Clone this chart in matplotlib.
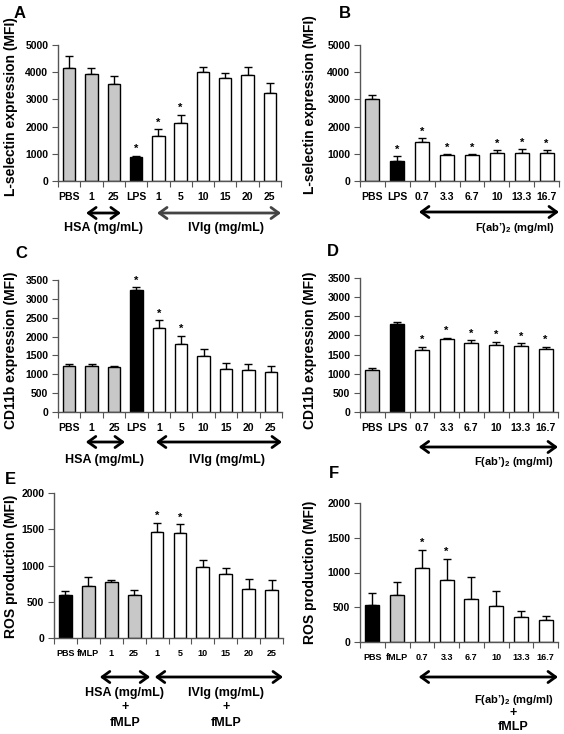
import numpy as np
import matplotlib
matplotlib.use("Agg")
import matplotlib.pyplot as plt
import matplotlib.transforms as mtransforms

plt.rcParams['font.family'] = ['Liberation Sans', 'DejaVu Sans']
plt.rcParams['font.weight'] = 'bold'
plt.rcParams['mathtext.fontset'] = 'custom'
plt.rcParams['mathtext.bf'] = 'Liberation Sans:bold'
plt.rcParams['mathtext.rm'] = 'Liberation Sans:bold'

# ---------------- data ----------------
cats_A = ["PBS", "1", "25", "LPS", "1", "5", "10", "15", "20", "25"]
vals_A = [4150, 3950, 3580, 880, 1650, 2150, 4000, 3780, 3900, 3250]
errs_A = [450, 200, 280, 50, 250, 280, 200, 200, 300, 350]
cols_A = ["g", "g", "g", "k", "w", "w", "w", "w", "w", "w"]
star_A = [0, 0, 0, 1, 1, 1, 0, 0, 0, 0]

cats_B = ["PBS", "LPS", "0.7", "3.3", "6.7", "10", "13.3", "16.7"]
vals_B = [3000, 720, 1420, 950, 950, 1030, 1030, 1030]
errs_B = [180, 200, 150, 30, 40, 100, 130, 100]
cols_B = ["g", "k", "w", "w", "w", "w", "w", "w"]
star_B = [0, 1, 1, 1, 1, 1, 1, 1]

cats_C = ["PBS", "1", "25", "LPS", "1", "5", "10", "15", "20", "25"]
vals_C = [1210, 1230, 1200, 3230, 2230, 1800, 1480, 1150, 1110, 1070]
errs_C = [50, 30, 30, 80, 200, 220, 200, 150, 160, 150]
cols_C = ["g", "g", "g", "k", "w", "w", "w", "w", "w", "w"]
star_C = [0, 0, 0, 1, 1, 1, 0, 0, 0, 0]

cats_D = ["PBS", "LPS", "0.7", "3.3", "6.7", "10", "13.3", "16.7"]
vals_D = [1090, 2300, 1630, 1900, 1800, 1740, 1720, 1650]
errs_D = [70, 50, 70, 40, 80, 100, 80, 50]
cols_D = ["g", "k", "w", "w", "w", "w", "w", "w"]
star_D = [0, 0, 1, 1, 1, 1, 1, 1]

cats_E = ["PBS", "fMLP", "1", "25", "1", "5", "10", "15", "20", "25"]
vals_E = [590, 720, 770, 600, 1460, 1450, 980, 880, 670, 660]
errs_E = [60, 120, 30, 60, 130, 120, 90, 90, 140, 140]
cols_E = ["k", "g", "g", "g", "w", "w", "w", "w", "w", "w"]
star_E = [0, 0, 0, 0, 1, 1, 0, 0, 0, 0]

cats_F = ["PBS", "fMLP", "0.7", "3.3", "6.7", "10", "13.3", "16.7"]
vals_F = [530, 670, 1060, 890, 620, 520, 360, 310]
errs_F = [180, 200, 270, 310, 310, 210, 80, 60]
cols_F = ["k", "g", "w", "w", "w", "w", "w", "w"]
star_F = [0, 0, 1, 1, 0, 0, 0, 0]

COLOR = {"g": "#c8c8c8", "k": "#000000", "w": "#ffffff"}
W, H = 564, 734
fig = plt.figure(figsize=(W / 100, H / 100), dpi=100)
FAB = "F(ab\u2019)$_{\\mathbf{2}}$ (mg/ml)"


def px_axes(x0, x1, ytop, ybot):
    return fig.add_axes([x0 / W, 1 - ybot / H, (x1 - x0) / W, (ybot - ytop) / H])


def draw(ax, cats, vals, errs, cols, stars, ymax, ystep, ylabel, ylab_ypx,
         ylab_off=41, catfs=7.5):
    n = len(cats)
    x = np.arange(n)
    ax.bar(x, vals, width=0.56, color=[COLOR[c] for c in cols],
           edgecolor="black", linewidth=1.0, zorder=2)
    ax.errorbar(x, vals, yerr=[np.zeros(n), errs], fmt="none", ecolor="black",
                elinewidth=1.0, capsize=3, capthick=1.0, zorder=1)
    for xi, v, e, s in zip(x, vals, errs, stars):
        if s:
            ax.text(xi, v + e + ymax * 0.012, "*", ha="center", va="bottom",
                    fontsize=8, fontweight="bold")
    ax.set_xlim(-0.5, n - 0.5)
    ax.set_ylim(0, ymax)
    ax.set_yticks(np.arange(0, ymax + 1, ystep))
    ax.set_xticks(np.arange(-0.5, n, 1))
    ax.set_xticklabels([])
    ax.set_xticks(x, minor=True)
    ax.set_xticklabels(cats, minor=True, fontsize=catfs, fontweight="bold")
    ax.tick_params(axis="x", which="minor", length=0, pad=8)
    ax.tick_params(axis="x", which="major", length=4, direction="out", color="#555555")
    ax.tick_params(axis="y", length=4, pad=3, direction="out", labelsize=7.5,
                   color="#555555")
    for t in ax.get_yticklabels():
        t.set_fontweight("bold")
    for sp in ["top", "right"]:
        ax.spines[sp].set_visible(False)
    for sp in ["left", "bottom"]:
        ax.spines[sp].set_color("#555555")
        ax.spines[sp].set_linewidth(1.0)
    ax.set_ylabel(ylabel, fontsize=10, fontweight="bold")
    bb = ax.get_position()
    x_lab_px = bb.x0 * W - ylab_off
    xa = (x_lab_px / W - bb.x0) / bb.width
    ya = ((1 - ylab_ypx / H) - bb.y0) / bb.height
    ax.yaxis.set_label_coords(xa, ya)


def arrow(ax, x0, x1, ypx, color="black"):
    tr = mtransforms.blended_transform_factory(ax.transData, fig.transFigure)
    ax.annotate("", xy=(x1, 1 - ypx / H), xytext=(x0, 1 - ypx / H),
                xycoords=tr, textcoords=tr,
                arrowprops=dict(arrowstyle="<->,head_length=0.55,head_width=0.4",
                                lw=2.0, color=color, shrinkA=0, shrinkB=0),
                annotation_clip=False)


def label(ax, xc, ypx, s, fs=9):
    tr = mtransforms.blended_transform_factory(ax.transData, fig.transFigure)
    ax.text(xc, 1 - ypx / H, s, transform=tr, ha="center", va="center",
            fontsize=fs, fontweight="bold", clip_on=False)


# Panel A
axA = px_axes(58, 281, 45, 181)
draw(axA, cats_A, vals_A, errs_A, cols_A, star_A, 5000, 1000,
     "L-selectin expression (MFI)", 107, ylab_off=40)
arrow(axA, 0.76, 2.32, 213)
arrow(axA, 3.94, 9.5, 213, color="#444444")
label(axA, 1.56, 228, "HSA (mg/mL)")
label(axA, 7.03, 228, "IVIg (mg/mL)")

# Panel B
axB = px_axes(360, 559, 45, 181)
draw(axB, cats_B, vals_B, errs_B, cols_B, star_B, 5000, 1000,
     "L-selectin expression (MFI)", 105, ylab_off=43)
arrow(axB, 1.87, 7.5, 212)
label(axB, 5.72, 228, FAB, fs=8)

# Panel C
axC = px_axes(58, 282, 280, 412)
draw(axC, cats_C, vals_C, errs_C, cols_C, star_C, 3500, 500,
     "CD11b expression (MFI)", 350, ylab_off=40)
arrow(axC, 0.74, 2.49, 442)
arrow(axC, 3.87, 9.5, 442)
label(axC, 1.56, 460, "HSA (mg/mL)")
label(axC, 7.03, 460, "IVIg (mg/mL)")

# Panel D
axD = px_axes(360, 558, 278, 412)
draw(axD, cats_D, vals_D, errs_D, cols_D, star_D, 3500, 500,
     "CD11b expression (MFI)", 350, ylab_off=43)
arrow(axD, 1.87, 7.5, 447)
label(axD, 5.72, 462, FAB, fs=8)

# Panel E
axE = px_axes(54, 283, 493, 638)
draw(axE, cats_E, vals_E, errs_E, cols_E, star_E, 2000, 500,
     "ROS production (MFI)", 566, ylab_off=36, catfs=6.5)
arrow(axE, 1.5, 3.7, 677)
arrow(axE, 3.9, 9.5, 677)
label(axE, 2.6, 693, "HSA (mg/mL)")
label(axE, 2.6, 707, "+")
label(axE, 2.6, 723, "fMLP")
label(axE, 7.0, 693, "IVIg (mg/mL)")
label(axE, 7.0, 707, "+")
label(axE, 7.0, 723, "fMLP")

# Panel F
axF = px_axes(360, 558, 503, 642)
draw(axF, cats_F, vals_F, errs_F, cols_F, star_F, 2000, 500,
     "ROS production (MFI)", 572, ylab_off=43, catfs=6.5)
arrow(axF, 1.87, 7.5, 677)
label(axF, 5.7, 700, FAB, fs=8)
label(axF, 5.7, 713, "+")
label(axF, 5.7, 727, "fMLP")

# panel letters
for s, xp, yp in [("A", 20, 14), ("B", 345, 14), ("C", 21, 254),
                  ("D", 333, 252), ("E", 10, 480), ("F", 334, 474)]:
    fig.text(xp / W, 1 - yp / H, s, fontsize=12, fontweight="bold",
             ha="center", va="center")

fig.savefig("out.png", dpi=100)
